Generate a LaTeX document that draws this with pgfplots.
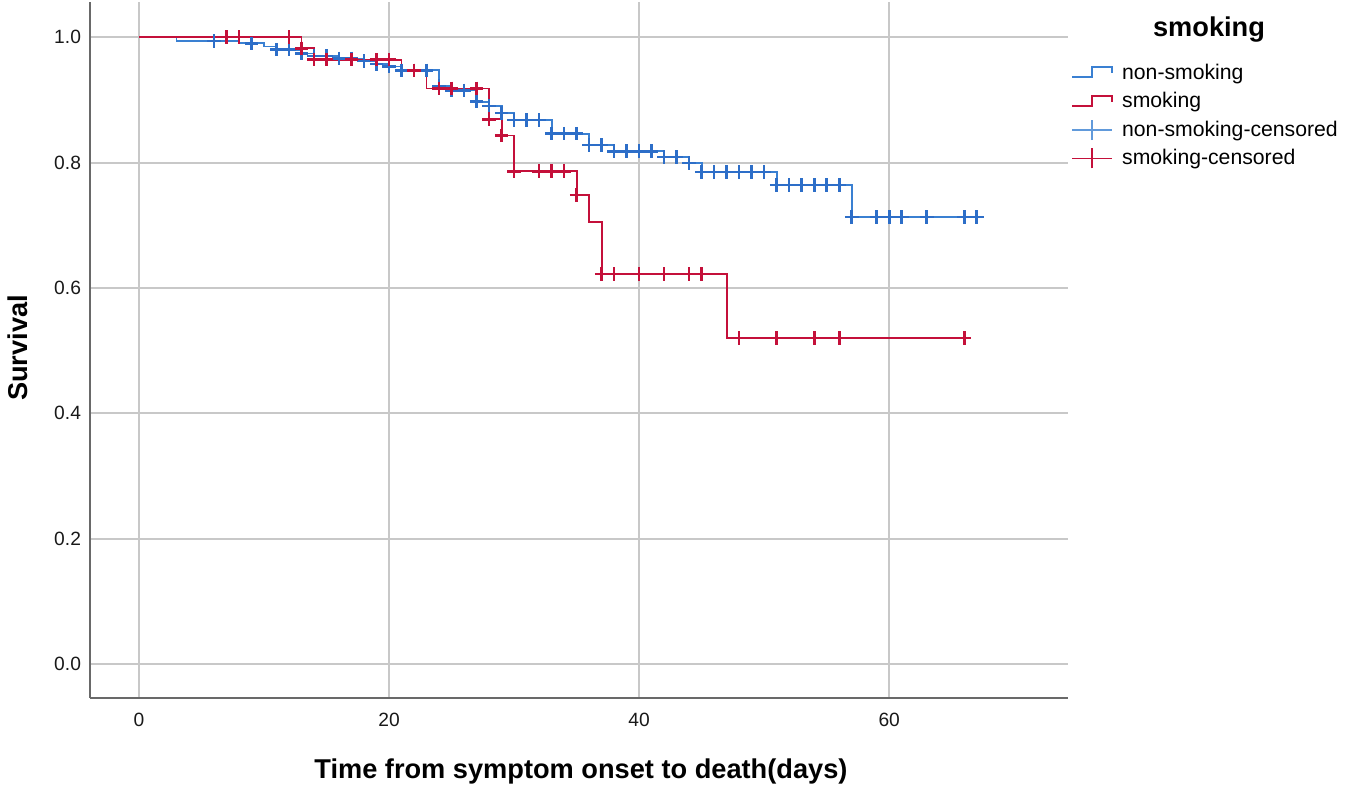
\documentclass[border=0pt]{standalone}
\usepackage{fontspec}
\setmainfont{Liberation Sans}
\usepackage{pgfplots}
\pgfplotsset{compat=1.18}
\definecolor{cblue}{RGB}{58,128,210}
\definecolor{cbluem}{RGB}{45,110,200}
\definecolor{cred}{RGB}{196,16,58}
\definecolor{gridc}{RGB}{200,200,200}
\definecolor{axc}{RGB}{105,105,105}
\begin{document}
\begin{tikzpicture}
\path[use as bounding box] (0,0) rectangle (675pt,393.5pt);
\begin{axis}[
  at={(45pt,44.5pt)}, anchor=south west,
  scale only axis, width=489pt, height=348pt,
  xmin=-3.92, xmax=74.3, ymin=-0.054, ymax=1.056,
  axis x line=bottom, axis y line=left,
  axis line style={draw=axc, line width=1pt, -},
  xtick={0,20,40,60}, ytick={0,0.2,0.4,0.6,0.8,1.0},
  major tick length=0pt,
  grid=major, major grid style={draw=gridc, line width=1pt},
  yticklabel style={/pgf/number format/fixed, /pgf/number format/fixed zerofill, /pgf/number format/precision=1, xshift=-1pt},
  /pgf/number format/assume math mode=true,
  tick label style={font=\fontsize{9.6}{11}\selectfont, text=black!90},
  xticklabel style={yshift=-4pt},
  xlabel={Time from symptom onset to death(days)},
  ylabel={Survival},
  label style={font=\bfseries\fontsize{13.6}{16}\selectfont},
  xlabel style={at={(axis description cs:0.502,-0.1049)}, anchor=center},
  ylabel style={at={(axis description cs:-0.0736,0.503)}, anchor=center},
  legend style={at={(1.003,0.917)}, anchor=north west, draw=none, fill=none,
    font=\fontsize{10.6}{12}\selectfont, row sep=1pt, inner sep=0pt,
    legend cell align=left, nodes={inner xsep=4.5pt}},
]
\addplot[cblue, line width=0.9pt, const plot,
  legend image code/.code={\draw[cblue, line width=0.9pt] (0pt,-2pt) -- (10pt,-2pt) -- (10pt,3pt) -- (20pt,3pt) -- (20pt,0pt);}]
coordinates {(0,1.0)(3,0.994)(8,0.990)(10,0.985)(11,0.980)(13,0.974)(14,0.970)(16,0.966)(18,0.962)(19,0.957)(20,0.953)(21,0.947)(24,0.922)(25,0.915)(27,0.897)(28,0.890)(29,0.879)(30,0.868)(33,0.846)(36,0.828)(38,0.818)(42,0.809)(44,0.799)(45,0.785)(51,0.764)(57,0.713)(67,0.713)};
\addlegendentry{non-smoking}
\addplot[cred, line width=0.9pt, const plot,
  legend image code/.code={\draw[cred, line width=0.9pt] (0pt,-2pt) -- (10pt,-2pt) -- (10pt,3pt) -- (20pt,3pt) -- (20pt,0pt);}]
coordinates {(0,1.0)(13,0.982)(14,0.964)(21,0.947)(23,0.918)(28,0.869)(29,0.843)(30,0.786)(35,0.748)(36,0.705)(37,0.622)(47,0.520)(66,0.520)};
\addlegendentry{smoking}
\addplot[only marks, mark=+, mark size=3.4pt, mark options={draw=cbluem, line width=1.3pt},
  legend image code/.code={\draw[cblue!80, line width=0.9pt] (0pt,0pt) -- (20pt,0pt); \draw[cblue!80, line width=0.9pt] (10pt,-5pt) -- (10pt,5pt);}]
coordinates {(6,0.994)(9,0.990)(11,0.980)(12,0.980)(13,0.974)(14,0.970)(15,0.970)(16,0.966)(17,0.966)(18,0.962)(19,0.957)(20,0.953)(21,0.947)(22,0.947)(23,0.947)(24,0.922)(25,0.915)(26,0.915)(27,0.897)(28,0.890)(29,0.879)(30,0.868)(31,0.868)(32,0.868)(33,0.846)(34,0.846)(35,0.846)(36,0.828)(37,0.828)(38,0.818)(39,0.818)(40,0.818)(41,0.818)(42,0.809)(43,0.809)(44,0.799)(45,0.785)(46,0.785)(47,0.785)(48,0.785)(49,0.785)(50,0.785)(51,0.764)(52,0.764)(53,0.764)(54,0.764)(55,0.764)(56,0.764)(57,0.713)(59,0.713)(60,0.713)(61,0.713)(63,0.713)(66,0.713)(67,0.713)};
\addlegendentry{non-smoking-censored}
\addplot[only marks, mark=+, mark size=3.4pt, mark options={draw=cred, line width=1.3pt},
  legend image code/.code={\draw[cred, line width=0.9pt] (0pt,0pt) -- (20pt,0pt); \draw[cred, line width=0.9pt] (10pt,-5pt) -- (10pt,5pt);}]
coordinates {(7,1.0)(8,1.0)(12,1.0)(13,0.982)(14,0.964)(15,0.964)(17,0.964)(19,0.964)(20,0.964)(22,0.947)(24,0.918)(25,0.918)(27,0.918)(28,0.869)(29,0.843)(30,0.786)(32,0.786)(33,0.786)(34,0.786)(35,0.748)(37,0.622)(38,0.622)(40,0.622)(42,0.622)(44,0.622)(45,0.622)(48,0.520)(51,0.520)(54,0.520)(56,0.520)(66,0.520)};
\addlegendentry{smoking-censored}
\end{axis}
\node[font=\bfseries\fontsize{13.6}{16}\selectfont] at (604.5pt,378.5pt) {smoking};
\end{tikzpicture}
\end{document}
